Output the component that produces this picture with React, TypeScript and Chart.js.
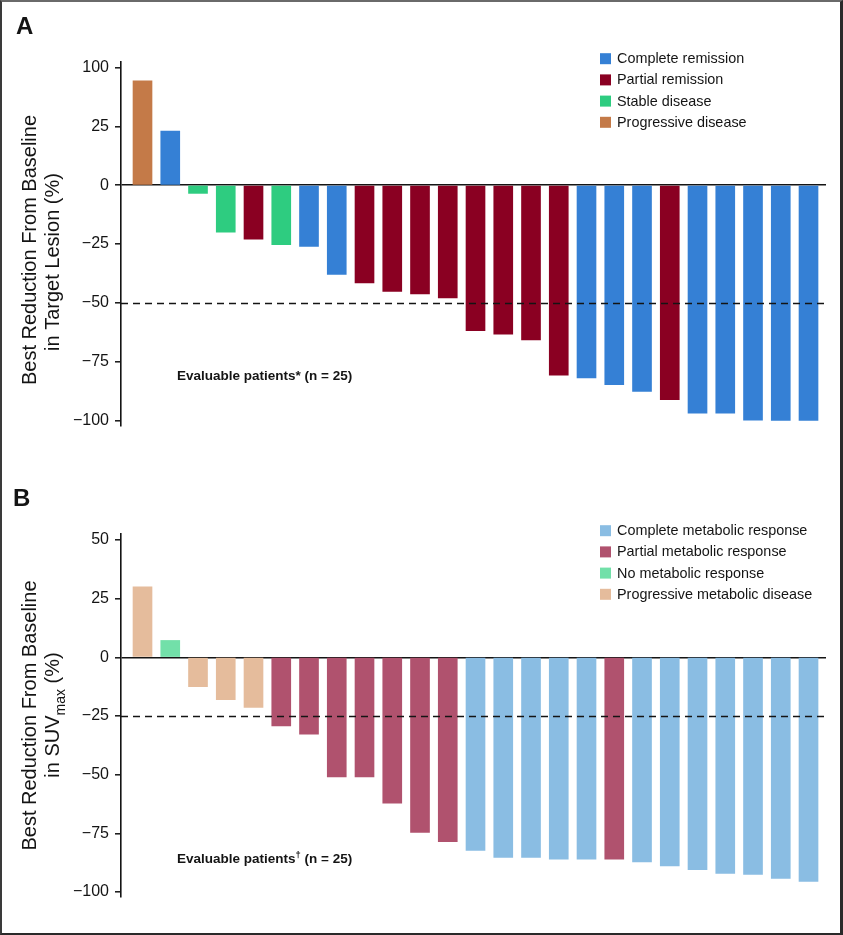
import React, { useEffect, useRef } from 'react';
import { Chart, registerables } from 'chart.js';

Chart.register(...registerables);

// ---------- Panel A data ----------
const legendA = ['Complete remission', 'Partial remission', 'Stable disease', 'Progressive disease'];
const colorsA = ['#3580d5', '#8a0022', '#2ecc80', '#c47a48'];
// response index into legendA (0 CR, 1 PR, 2 SD, 3 PD)
const responseA = [3, 0, 2, 2, 1, 2, 0, 0, 1, 1, 1, 1, 1, 1, 1, 1, 0, 0, 0, 1, 0, 0, 0, 0, 0];
const valuesA = [83, 23, -3.5, -20, -23, -25.3, -26, -38, -41.6, -45.2, -46.2, -47.9, -61.9, -63.4, -65.8, -80.8, -82, -84.8, -87.7, -91.2, -97, -97, -99.9, -100, -100];
const ticksA = [100, 25, 0, -25, -50, -75, -100];
const thresholdA = -50;
const axisBreakA = 25; // axis is compressed above this value
const compressA = 3;

// ---------- Panel B data ----------
const legendB = ['Complete metabolic response', 'Partial metabolic response', 'No metabolic response', 'Progressive metabolic disease'];
const colorsB = ['#8abde3', '#b0526e', '#72e0a9', '#e5bc9c'];
const responseB = [3, 2, 3, 3, 3, 1, 1, 1, 1, 1, 1, 1, 0, 0, 0, 0, 0, 1, 0, 0, 0, 0, 0, 0, 0];
const valuesB = [30, 7.2, -12.5, -18, -21.3, -29.2, -32.7, -51, -51, -62.1, -74.6, -78.6, -82.3, -85.3, -85.3, -86, -86, -86, -87.2, -88.9, -90.5, -92.1, -92.5, -94.2, -95.5];
const ticksB = [50, 25, 0, -25, -50, -75, -100];
const thresholdB = -25;

const FONT = "'Liberation Sans', Arial, Helvetica, sans-serif";
const INK = '#141414';

const fmt = (v: number) => (v < 0 ? '\u2212' + Math.abs(Math.round(v)) : String(Math.round(v)));

type Seg = { text: string; sub?: boolean; sup?: boolean };

const drawSegs = (ctx: CanvasRenderingContext2D, segs: Seg[], size: number, weight: string, align: 'center' | 'left') => {
  const widths = segs.map((s) => {
    ctx.font = `${weight} ${s.sub || s.sup ? size * 0.7 : size}px ${FONT}`;
    return ctx.measureText(s.text).width;
  });
  const total = widths.reduce((a, b) => a + b, 0);
  let x = align === 'center' ? -total / 2 : 0;
  segs.forEach((s, i) => {
    ctx.font = `${weight} ${s.sub || s.sup ? size * 0.7 : size}px ${FONT}`;
    const dy = s.sub ? size * 0.28 : s.sup ? -size * 0.38 : 0;
    ctx.fillText(s.text, x, dy);
    x += widths[i];
  });
};

const decor = {
  id: 'panelDecor',
  afterDatasetsDraw(chart: any, _args: any, o: any) {
    const ctx: CanvasRenderingContext2D = chart.ctx;
    const area = chart.chartArea;
    const y = chart.scales.y;
    ctx.save();
    // threshold dashed line
    const ty = Math.round(y.getPixelForValue(o.threshold)) + 0.5;
    ctx.strokeStyle = INK;
    ctx.lineWidth = 1.6;
    ctx.setLineDash([7, 5]);
    ctx.beginPath();
    ctx.moveTo(area.left, ty);
    ctx.lineTo(area.right, ty);
    ctx.stroke();
    ctx.setLineDash([]);

    ctx.fillStyle = INK;
    ctx.textBaseline = 'alphabetic';
    // panel letter
    ctx.font = `bold 24px ${FONT}`;
    ctx.textAlign = 'left';
    ctx.fillText(o.letter, o.letterX, o.letterY);

    // y title (rotated)
    o.titleLines.forEach((line: Seg[], i: number) => {
      ctx.save();
      ctx.translate(o.titleX[i], o.titleY[i]);
      ctx.rotate(-Math.PI / 2);
      ctx.textAlign = 'left';
      drawSegs(ctx, line, 20, 'normal', 'center');
      ctx.restore();
    });

    // legend
    o.legend.forEach((label: string, i: number) => {
      const cy = o.legendY + i * o.legendStep;
      ctx.fillStyle = o.colors[i];
      ctx.fillRect(o.legendX, cy - 5.5, 11, 11);
      ctx.fillStyle = INK;
      ctx.font = `normal 14.4px ${FONT}`;
      ctx.textBaseline = 'middle';
      ctx.fillText(label, o.legendX + 17, cy + 0.5);
    });

    // note
    ctx.textBaseline = 'alphabetic';
    ctx.save();
    ctx.translate(o.noteX, o.noteY);
    drawSegs(ctx, o.note, 13.5, 'bold', 'left');
    ctx.restore();
    ctx.restore();
  },
};

const makeChart = (canvas: HTMLCanvasElement, p: any) =>
  new Chart(canvas, {
    type: 'bar',
    data: {
      datasets: [
        {
          data: p.values.map((v: number, i: number) => ({ x: i, y: p.disp(v) })),
          backgroundColor: p.response.map((r: number) => p.colors[r]),
          borderWidth: 0,
          barThickness: 19,
        },
      ],
    },
    options: {
      responsive: false,
      animation: false,
      devicePixelRatio: 1,
      layout: { padding: { left: 0, right: 17, top: p.padTop, bottom: p.padBottom } },
      plugins: { legend: { display: false }, tooltip: { enabled: false }, panelDecor: p } as any,
      scales: {
        x: { type: 'linear', min: -0.775, max: 24.63, offset: false, display: false, grid: { offset: false } },
        y: {
          min: p.yMin,
          max: p.yMax,
          afterFit: (s: any) => {
            s.width = 121;
          },
          afterBuildTicks: (s: any) => {
            s.ticks = p.ticks.map((v: number) => ({ value: p.disp(v) }));
          },
          ticks: {
            callback: (v: any) => fmt(p.inv(Number(v))),
            font: { family: FONT, size: 16 },
            color: INK,
            padding: 6,
            autoSkip: false,
          },
          grid: {
            color: (c: any) => (c.tick && c.tick.value === 0 ? INK : 'rgba(0,0,0,0)'),
            lineWidth: 1.6,
            drawTicks: true,
            tickLength: 6,
            tickColor: INK,
            tickWidth: 1.5,
          },
          border: { display: true, color: INK, width: 1.6 },
        },
      },
    } as any,
    plugins: [decor],
  });

export default function App() {
  const refA = useRef<HTMLCanvasElement>(null);
  const refB = useRef<HTMLCanvasElement>(null);

  useEffect(() => {
    const dispA = (v: number) => (v > axisBreakA ? axisBreakA + (v - axisBreakA) / compressA : v);
    const invA = (v: number) => (v > axisBreakA ? axisBreakA + (v - axisBreakA) * compressA : v);
    const id = (v: number) => v;
    const a = makeChart(refA.current!, {
      values: valuesA,
      response: responseA,
      colors: colorsA,
      legend: legendA,
      ticks: ticksA,
      threshold: thresholdA,
      disp: dispA,
      inv: invA,
      yMin: -102.42,
      yMax: 52.38,
      padTop: 62,
      padBottom: 41,
      letter: 'A',
      letterX: 16,
      letterY: 34,
      titleLines: [[{ text: 'Best Reduction From Baseline' }], [{ text: 'in Target Lesion (%)' }]],
      titleX: [36, 59],
      titleY: [250, 262],
      legendX: 600,
      legendY: 58.7,
      legendStep: 21.2,
      note: [{ text: 'Evaluable patients* (n = 25)' }],
      noteX: 177,
      noteY: 380,
    });
    const b = makeChart(refB.current!, {
      values: valuesB,
      response: responseB,
      colors: colorsB,
      legend: legendB,
      ticks: ticksB,
      threshold: thresholdB,
      disp: id,
      inv: id,
      yMin: -102.13,
      yMax: 52.56,
      padTop: 67,
      padBottom: 38,
      letter: 'B',
      letterX: 13,
      letterY: 39,
      titleLines: [
        [{ text: 'Best Reduction From Baseline' }],
        [{ text: 'in SUV' }, { text: 'max', sub: true }, { text: ' (%)' }],
      ],
      titleX: [36, 59],
      titleY: [248.5, 248],
      legendX: 600,
      legendY: 63.7,
      legendStep: 21.2,
      note: [{ text: 'Evaluable patients' }, { text: '\u2020', sup: true }, { text: ' (n = 25)' }],
      noteX: 177,
      noteY: 396,
    });
    return () => {
      a.destroy();
      b.destroy();
    };
  }, []);

  return (
    <div style={{ position: 'absolute', left: 0, top: 0, width: 843, height: 935, background: '#fff' }}>
      <canvas ref={refA} width={843} height={467} style={{ position: 'absolute', left: 0, top: 0, width: 843, height: 467 }} />
      <canvas ref={refB} width={843} height={468} style={{ position: 'absolute', left: 0, top: 467, width: 843, height: 468 }} />
      <div
        style={{
          position: 'absolute',
          left: 0,
          top: 0,
          width: 843,
          height: 935,
          boxSizing: 'border-box',
          borderTop: '2px solid #6a6a6a',
          borderLeft: '2px solid #3a3a3a',
          borderRight: '3px solid #2a2a2a',
          borderBottom: '2px solid #2a2a2a',
          pointerEvents: 'none',
        }}
      />
    </div>
  );
}
